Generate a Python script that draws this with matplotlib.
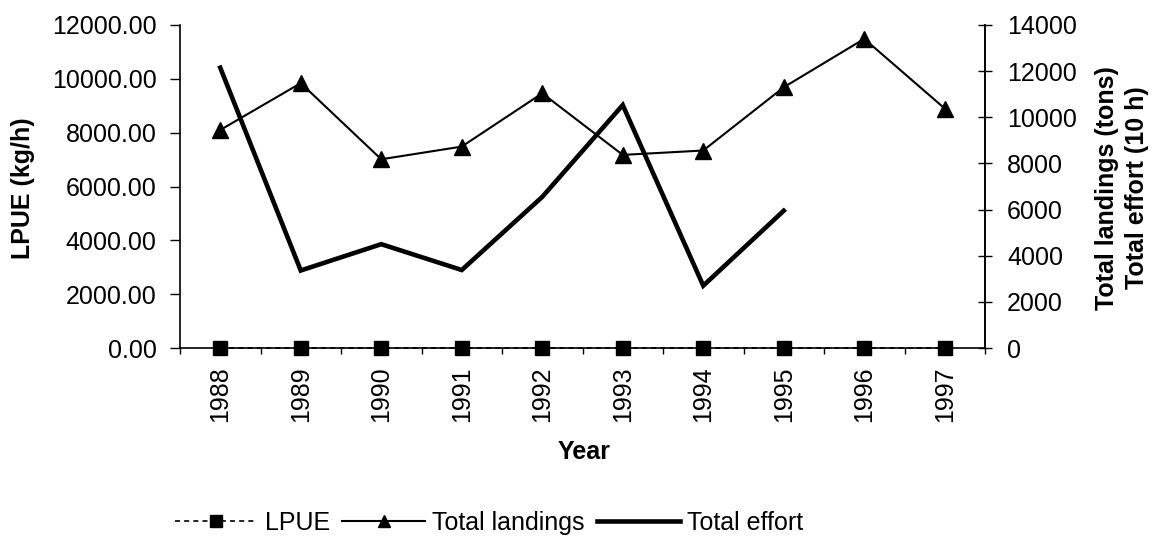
import matplotlib
matplotlib.use("Agg")
import matplotlib.pyplot as plt
import numpy as np
from matplotlib.ticker import FixedLocator, FuncFormatter

plt.rcParams['font.family'] = ['Liberation Sans', 'DejaVu Sans']

years = ["1988", "1989", "1990", "1991", "1992", "1993", "1994", "1995", "1996", "1997"]
lpue = [0.77, 3.4, 1.8, 2.6, 1.7, 0.8, 3.2, 1.9, 0.0, 0.0]
total_landings = [9450, 11480, 8180, 8730, 11040, 8370, 8560, 11300, 13400, 10380]
effort_years = years[:8]
total_effort = [12150, 3360, 4500, 3380, 6550, 10530, 2700, 5950]

lpue_ticks = [0, 2000, 4000, 6000, 8000, 10000, 12000]
right_ticks = [0, 2000, 4000, 6000, 8000, 10000, 12000, 14000]

W, H = 1158, 539
fig = plt.figure(figsize=(W / 100, H / 100), dpi=100)
ax = fig.add_axes([180 / W, 1 - 348 / H, 805 / W, 323 / H])
ax2 = ax.twinx()

x = np.arange(len(years))
xe = np.arange(len(effort_years))

l1, = ax.plot(x, lpue, color='black', lw=1.2, ls=(0, (3, 2.5)), marker='s',
              markersize=9.5, clip_on=False, zorder=5, label='LPUE')
l2, = ax2.plot(x, total_landings, color='black', lw=1.5, marker='^',
               markersize=11, clip_on=False, label='Total landings')
l3, = ax2.plot(xe, total_effort, color='black', lw=3.3,
               solid_joinstyle='miter', label='Total effort')

ax.set_xlim(-0.5, len(years) - 0.5)
ax.set_ylim(0, 12000)
ax2.set_ylim(0, 14000)

ax.yaxis.set_major_locator(FixedLocator(lpue_ticks))
ax.yaxis.set_major_formatter(FuncFormatter(lambda v, p: f"{v:.2f}"))
ax2.yaxis.set_major_locator(FixedLocator(right_ticks))

ax.set_xticks(x)
ax.set_xticklabels(years, rotation=90, fontsize=18)
ax.set_xticks(np.arange(-0.5, len(years), 1.0), minor=True)
ax.tick_params(axis='x', which='major', length=0, pad=13)
ax.tick_params(axis='x', which='minor', length=4, direction='out', width=1)
ax.tick_params(axis='y', which='major', length=7, direction='out', width=1, labelsize=18, pad=10)
ax2.tick_params(axis='y', which='major', length=10, direction='inout', width=1, labelsize=18, pad=11)

for a in (ax, ax2):
    a.spines['top'].set_visible(False)
    for s in a.spines.values():
        s.set_linewidth(1.2)
ax2.spines['left'].set_visible(False)
ax2.spines['bottom'].set_visible(False)

fig.text(584 / W, 1 - 452 / H, "Year", fontsize=18, fontweight='bold',
         ha='center', va='center')
fig.text(23 / W, 1 - 188 / H, "LPUE (kg/h)", fontsize=18, fontweight='bold',
         rotation=90, ha='center', va='center', rotation_mode='anchor')
fig.text(1122 / W, 1 - 188 / H, "Total landings (tons)\nTotal effort (10 h)", fontsize=18,
         fontweight='bold', rotation=90, ha='center', va='center',
         rotation_mode='anchor', multialignment='center', linespacing=1.3)

ax2.set_zorder(1)
ax.set_zorder(2)
ax.patch.set_visible(False)

fig.legend(handles=[l1, l2, l3], loc='center', bbox_to_anchor=(489 / W, 1 - 523 / H),
           ncol=3, frameon=False, fontsize=18, handlelength=3.3, handletextpad=0.3,
           columnspacing=0.5, markerscale=0.85, borderpad=0, borderaxespad=0)

fig.savefig("out.png", dpi=100)
